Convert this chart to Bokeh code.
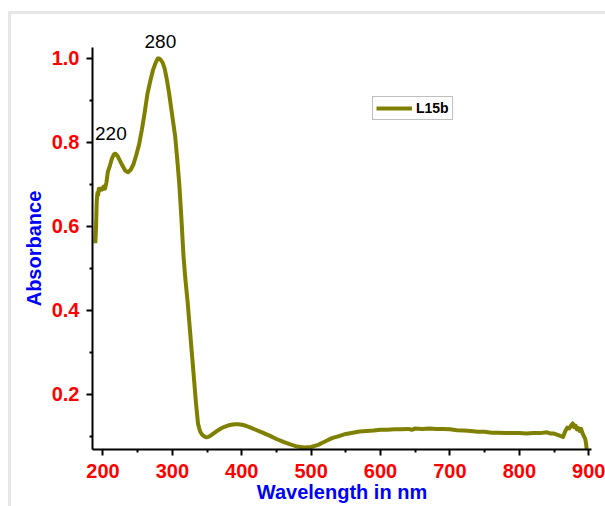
from bokeh.plotting import figure
from bokeh.models import (Range1d, FixedTicker, Legend, LegendItem, Label,
                          ColumnDataSource, PrintfTickFormatter, Title)
from bokeh.embed import file_html
from bokeh.resources import INLINE

wavelength = [189, 190, 191, 192, 193, 194, 195, 197, 199, 201, 203, 205, 207, 210,
              213, 216, 218, 221, 224, 228, 232, 236, 240, 244, 248, 252, 256, 260,
              264, 268, 272, 276, 279, 281, 283, 286, 289, 292, 295, 298, 301, 304,
              307, 310, 313, 316, 319, 322, 325, 328, 331, 334, 337, 340, 343, 346,
              349, 352, 356, 360, 365, 370, 375, 380, 385, 390, 395, 400, 405, 410,
              420, 430, 440, 450, 460, 470, 480, 490, 500, 510, 520, 530, 540, 550,
              560, 570, 580, 590, 600, 610, 620, 630, 640, 645, 650, 660, 670, 680,
              690, 700, 710, 720, 730, 740, 750, 760, 770, 780, 790, 800, 810, 820,
              830, 840, 845, 850, 855, 860, 863, 866, 869, 872, 875, 877, 879, 881,
              883, 885, 887, 889, 891, 893, 895, 896, 897]
absorbance = [0.56, 0.60, 0.66, 0.68, 0.675, 0.69, 0.685, 0.69, 0.688, 0.695, 0.69,
              0.705, 0.73, 0.745, 0.762, 0.772, 0.773, 0.768, 0.758, 0.745, 0.733,
              0.729, 0.735, 0.748, 0.77, 0.795, 0.83, 0.87, 0.915, 0.945, 0.972, 0.99,
              1.0, 1.0, 0.997, 0.99, 0.975, 0.95, 0.92, 0.885, 0.85, 0.815, 0.76, 0.70,
              0.62, 0.53, 0.47, 0.42, 0.36, 0.30, 0.24, 0.18, 0.13, 0.112, 0.104, 0.100,
              0.098, 0.099, 0.103, 0.108, 0.114, 0.119, 0.123, 0.126, 0.128, 0.129,
              0.129, 0.128, 0.126, 0.123, 0.116, 0.109, 0.102, 0.094, 0.087, 0.081,
              0.076, 0.074, 0.075, 0.080, 0.088, 0.096, 0.101, 0.106, 0.109, 0.112,
              0.113, 0.114, 0.116, 0.116, 0.117, 0.117, 0.118, 0.116, 0.119, 0.118,
              0.119, 0.118, 0.118, 0.117, 0.115, 0.114, 0.113, 0.111, 0.111, 0.109,
              0.109, 0.108, 0.108, 0.108, 0.107, 0.108, 0.108, 0.110, 0.107, 0.107,
              0.104, 0.101, 0.099, 0.112, 0.121, 0.119, 0.127, 0.131, 0.122, 0.126,
              0.117, 0.120, 0.113, 0.118, 0.108, 0.101, 0.094, 0.085, 0.070]

x_ticks = [200, 300, 400, 500, 600, 700, 800, 900]
x_minor = [250, 350, 450, 550, 650, 750, 850]
y_ticks = [0.2, 0.4, 0.6, 0.8, 1.0]
y_minor = [0.1, 0.3, 0.5, 0.7, 0.9]
series_name = "L15b"
label_220 = "220"
label_280 = "280"

FONT = "Liberation Sans"

p = figure(width=605, height=506, output_backend="svg", toolbar_location=None,
           x_range=Range1d(184.9, 904), y_range=Range1d(0.069, 1.026),
           min_border_left=92, min_border_right=14, min_border_top=47,
           min_border_bottom=57)
p.outline_line_color = None
p.grid.visible = False
p.background_fill_color = "white"
p.border_fill_alpha = 0
p.styles = {
    "background": ("linear-gradient(#e6e6e6, #e6e6e6) 8px 11px / 600px 3px no-repeat, "
                   "linear-gradient(#e6e6e6, #e6e6e6) 8px 11px / 3px 500px no-repeat, "
                   "white"),
}

src = ColumnDataSource(dict(x=wavelength, y=absorbance))
r = p.line("x", "y", source=src, line_color="#808000", line_width=4,
           line_join="round")

for ax, ticks, minor in ((p.xaxis[0], x_ticks, x_minor), (p.yaxis[0], y_ticks, y_minor)):
    ax.ticker = FixedTicker(ticks=ticks, minor_ticks=minor)
    ax.axis_line_color = "black"
    ax.axis_line_width = 2
    ax.major_tick_line_color = "black"
    ax.major_tick_line_width = 2
    ax.minor_tick_line_color = "black"
    ax.minor_tick_line_width = 2
    ax.major_tick_out = 6
    ax.major_tick_in = 0
    ax.minor_tick_out = 3
    ax.minor_tick_in = 0
    ax.major_label_text_color = "#ff0000"
    ax.major_label_text_font = FONT
    ax.major_label_text_font_style = "bold"
    ax.major_label_text_font_size = "20px"
    ax.axis_label_text_color = "#0000ff"
    ax.axis_label_text_font = FONT
    ax.axis_label_text_font_style = "bold"
    ax.axis_label_text_font_size = "20px"

p.yaxis.formatter = PrintfTickFormatter(format="%.1f")
p.xaxis.axis_label = "Wavelength in nm"
p.yaxis.axis_label = "Absorbance"
p.xaxis.major_label_standoff = 8
p.xaxis.axis_label_standoff = 0
p.yaxis.major_label_standoff = 7
p.yaxis.axis_label_standoff = 4

# peak annotation above the frame (as a title so it is not clipped)
p.title = Title(text=label_280, align="left", offset=52, standoff=0,
                text_font=FONT, text_font_size="19px", text_font_style="normal",
                text_color="black")

p.add_layout(Label(x=188.5, y=0.821, text=label_220, text_font=FONT,
                   text_font_size="19px", text_color="black",
                   text_baseline="alphabetic", text_align="left"))

legend = Legend(items=[LegendItem(label=series_name, renderers=[r])],
                location=(280, 329), padding=3, margin=0, spacing=0,
                glyph_width=36, glyph_height=16, label_height=16,
                label_standoff=4, label_text_font=FONT,
                label_text_font_style="bold", label_text_font_size="14px",
                label_text_color="black", border_line_color="#7f7f7f",
                border_line_width=1, background_fill_color="white",
                background_fill_alpha=1)
p.add_layout(legend)

open("out.html", "w").write(file_html(p, INLINE))
